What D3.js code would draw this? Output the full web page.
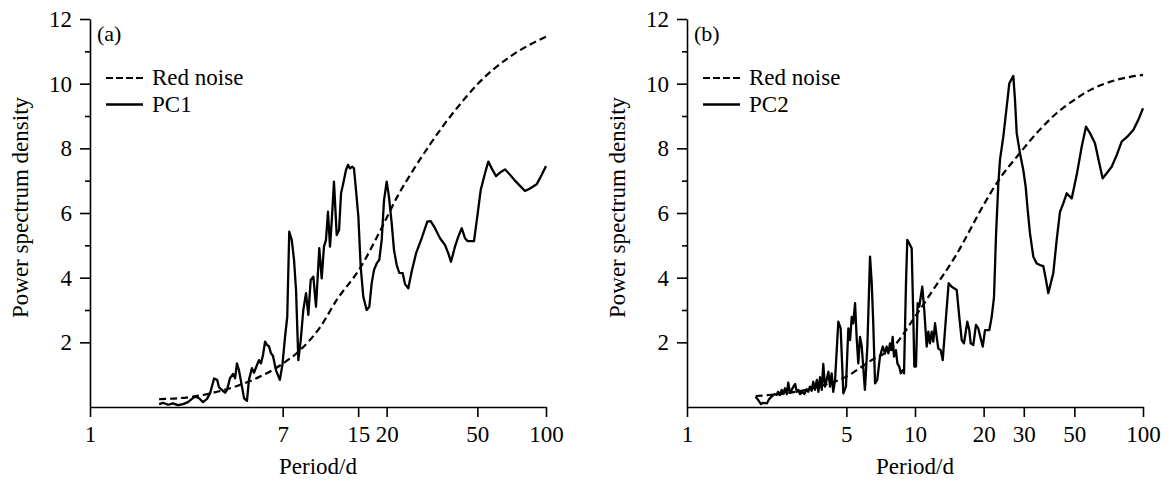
<!DOCTYPE html>
<html><head><meta charset="utf-8">
<script src="https://cdn.jsdelivr.net/npm/d3@7"></script>
<style>body{margin:0;background:#fff}svg{display:block}text{font-family:"Liberation Serif","Times New Roman",serif;fill:#000}</style>
</head><body><svg id="c" width="1167" height="480"></svg>
<script>
// ---- data ----
const panelLabels = ["(a)", "(b)"];
const seriesNames = [["Red noise", "PC1"], ["Red noise", "PC2"]];
const xTicksA = [1, 7, 15, 20, 50, 100];
const xTicksB = [1, 5, 10, 20, 30, 50, 100];
const yMajorTicks = [2, 4, 6, 8, 10, 12];
const yMinorTicks = [3, 5, 7, 9, 11];

const redNoiseA = [[2.01,0.24],[2.83,0.32],[3.61,0.47],[4.41,0.65],[5.57,0.94],[7.04,1.35],[8.2,1.71],[10.24,2.48],[12.08,3.31],[15.28,4.29],[18.8,5.47],[22.5,6.56],[26,7.3],[31.2,8.15],[35,8.65],[40,9.18],[50,9.98],[70,10.85],[100,11.45]];
const pc1 = [[2.01,0.09],[2.09,0.13],[2.2,0.07],[2.31,0.11],[2.43,0.06],[2.56,0.09],[2.69,0.15],[2.8,0.25],[2.89,0.32],[3.01,0.27],[3.13,0.15],[3.26,0.25],[3.36,0.42],[3.43,0.65],[3.5,0.88],[3.61,0.84],[3.68,0.61],[3.79,0.53],[3.91,0.44],[3.99,0.53],[4.11,0.89],[4.24,1.02],[4.33,0.89],[4.41,1.35],[4.5,1.14],[4.64,0.63],[4.74,0.27],[4.88,0.19],[4.98,0.84],[5.13,1.2],[5.24,1.06],[5.4,1.3],[5.51,1.45],[5.62,1.35],[5.74,1.61],[5.86,2.02],[5.97,1.92],[6.1,1.87],[6.22,1.66],[6.35,1.58],[6.54,1.14],[6.8,0.84],[6.98,1.3],[7.17,2.17],[7.33,2.79],[7.48,5.42],[7.67,5.17],[7.85,4.55],[8.01,3.62],[8.2,1.45],[8.4,2.07],[8.62,3.0],[8.86,3.52],[9.07,2.85],[9.29,3.93],[9.54,4.03],[9.8,3.1],[10.13,4.91],[10.38,3.98],[10.62,4.96],[10.84,5.17],[11.06,6.04],[11.29,4.96],[11.52,5.89],[11.75,6.97],[12.08,5.32],[12.37,5.47],[12.62,6.61],[12.91,6.92],[13.27,7.33],[13.54,7.49],[13.81,7.38],[14.14,7.43],[14.38,7.38],[14.68,6.71],[15.03,5.89],[15.39,4.34],[15.8,3.41],[16.35,3.0],[16.79,3.1],[17.2,3.83],[17.61,4.24],[18.09,4.44],[18.57,4.55],[19.03,5.17],[19.48,6.4],[20.01,6.97],[20.48,6.5],[21.05,5.68],[21.54,4.86],[22.14,4.39],[22.73,4.15],[23.52,4.14],[24.07,3.8],[24.89,3.67],[25.76,4.19],[26.91,4.75],[28.5,5.22],[30.16,5.73],[31.21,5.75],[32.6,5.53],[34.29,5.22],[36.06,5.01],[37.29,4.75],[38.31,4.49],[39.89,4.96],[41.24,5.27],[42.69,5.53],[44.13,5.22],[45.35,5.13],[48.33,5.13],[49.96,5.89],[51.71,6.71],[54.01,7.23],[55.84,7.59],[57.78,7.38],[60.35,7.14],[62.84,7.25],[66.09,7.35],[69.52,7.18],[73.12,7.0],[76.91,6.84],[80.89,6.68],[85.08,6.76],[91.04,6.89],[95.75,7.18],[100,7.45]];

const redNoiseB = [[2.0,0.34],[3.0,0.47],[4.0,0.68],[5.0,0.94],[6.35,1.42],[8,1.85],[10,2.79],[12,3.62],[15,4.65],[20,6.25],[22.8,6.92],[28.8,7.85],[35,8.55],[42,9.1],[50,9.5],[58.5,9.8],[75,10.1],[100,10.27]];
const pc2 = [[2.0,0.32],[2.05,0.22],[2.11,0.09],[2.16,0.13],[2.24,0.11],[2.29,0.24],[2.35,0.32],[2.42,0.4],[2.47,0.37],[2.51,0.47],[2.56,0.37],[2.6,0.53],[2.65,0.42],[2.69,0.58],[2.74,0.4],[2.78,0.75],[2.83,0.44],[2.88,0.53],[2.93,0.63],[2.98,0.71],[3.03,0.47],[3.08,0.53],[3.13,0.4],[3.21,0.47],[3.27,0.4],[3.35,0.55],[3.4,0.47],[3.46,0.63],[3.52,0.5],[3.58,0.78],[3.64,0.53],[3.71,0.84],[3.77,0.47],[3.83,0.92],[3.9,0.53],[3.96,1.33],[4.03,0.63],[4.1,0.84],[4.17,1.09],[4.24,0.63],[4.31,1.04],[4.38,0.47],[4.46,0.84],[4.61,2.64],[4.72,2.43],[4.85,0.42],[4.98,0.63],[5.1,2.43],[5.19,2.07],[5.28,2.79],[5.36,2.59],[5.46,3.21],[5.55,2.12],[5.64,1.35],[5.74,2.17],[5.84,1.87],[6.03,0.53],[6.18,1.87],[6.35,4.65],[6.46,3.83],[6.56,2.59],[6.68,0.73],[6.83,0.84],[7.02,1.56],[7.22,1.87],[7.39,1.66],[7.51,1.87],[7.64,1.66],[7.77,1.97],[7.9,1.76],[7.98,2.17],[8.09,1.56],[8.25,1.76],[8.37,1.35],[8.53,1.25],[8.66,1.04],[8.83,1.14],[8.95,1.04],[9.13,3.83],[9.25,5.17],[9.44,5.06],[9.67,4.91],[9.83,2.79],[9.93,1.25],[10.1,1.25],[10.27,3.21],[10.44,3.1],[10.76,3.72],[10.98,3.0],[11.25,1.87],[11.44,2.33],[11.63,1.97],[11.84,2.33],[12.03,2.02],[12.24,2.59],[12.45,2.17],[12.65,1.81],[12.96,1.76],[13.23,1.45],[13.68,2.79],[14.05,3.83],[14.49,3.72],[15.24,3.62],[15.64,2.79],[16.03,2.07],[16.4,1.97],[16.96,2.64],[17.3,2.38],[17.55,1.97],[18.02,1.92],[18.51,2.54],[18.95,2.43],[19.42,2.12],[19.82,1.87],[20.28,2.38],[21.18,2.38],[21.7,2.79],[22.21,3.4],[22.66,5.3],[23.2,6.9],[23.6,7.66],[24.4,8.36],[25.25,9.29],[25.92,10.01],[26.64,10.17],[26.99,10.24],[27.45,9.5],[27.93,8.47],[28.87,7.85],[29.85,7.33],[30.58,6.81],[31.21,6.09],[31.94,5.37],[33.03,4.65],[34.19,4.44],[35.35,4.39],[36.53,4.36],[37.54,3.93],[38.42,3.52],[40.42,4.14],[41.83,5.17],[43.25,6.04],[44.72,6.3],[46.28,6.61],[48.68,6.45],[51.2,7.18],[53.84,8.05],[56.23,8.67],[58.55,8.47],[61.58,8.16],[64.31,7.54],[66.55,7.07],[69.3,7.23],[72.89,7.43],[76.66,7.79],[80.63,8.21],[85.33,8.36],[90.68,8.57],[95.37,8.88],[100,9.24]];

// ---- drawing ----
const panels = [
  {x0: 90, label: panelLabels[0], names: seriesNames[0], ticks: xTicksA, red: redNoiseA, pc: pc1},
  {x0: 687, label: panelLabels[1], names: seriesNames[1], ticks: xTicksB, red: redNoiseB, pc: pc2}
];
const svg = d3.select("#c");
const FS = "23px";
const yTop = 19, yBot = 407, W = 456;

panels.forEach(p => {
  const x = d3.scaleLog().domain([1, 100]).range([p.x0, p.x0 + W]);
  const y = d3.scaleLinear().domain([0, 12]).range([yBot, yTop]);
  const g = svg.append("g");

  g.append("g").attr("transform", `translate(${p.x0},0)`)
    .call(d3.axisLeft(y).tickValues(yMajorTicks).tickSize(10).tickSizeOuter(0).tickPadding(8).tickFormat(d3.format("d")));
  g.append("g").attr("transform", `translate(${p.x0},0)`)
    .call(d3.axisLeft(y).tickValues(yMinorTicks).tickSize(5).tickFormat(""))
    .select(".domain").remove();
  g.append("g").attr("transform", `translate(0,${yBot})`)
    .call(d3.axisBottom(x).tickValues(p.ticks).tickSize(10).tickSizeOuter(0).tickPadding(9).tickFormat(d3.format("d")));
  g.selectAll(".domain, .tick line").attr("stroke", "#000").attr("stroke-width", 1.6);
  g.selectAll(".tick text").style("font-size", FS).style("font-family", '"Liberation Serif",serif').attr("fill", "#000");

  g.append("text").attr("transform", `translate(${p.x0 - 62},207.5) rotate(-90)`)
    .attr("text-anchor", "middle").style("font-size", FS).text("Power spectrum density");
  g.append("text").attr("x", x(10)).attr("y", 474).attr("text-anchor", "middle").style("font-size", FS).text("Period/d");
  g.append("text").attr("x", p.x0 + 7).attr("y", 41).style("font-size", "22px").text(p.label);

  g.append("line").attr("x1", p.x0 + 16).attr("x2", p.x0 + 53).attr("y1", 78).attr("y2", 78)
    .attr("stroke", "#000").attr("stroke-width", 2.2).attr("stroke-dasharray", "7,3");
  g.append("text").attr("x", p.x0 + 62).attr("y", 85).style("font-size", FS).text(p.names[0]);
  g.append("line").attr("x1", p.x0 + 16).attr("x2", p.x0 + 53).attr("y1", 104.5).attr("y2", 104.5)
    .attr("stroke", "#000").attr("stroke-width", 2.4);
  g.append("text").attr("x", p.x0 + 62).attr("y", 112).style("font-size", FS).text(p.names[1]);

  g.append("path").datum(p.red).attr("fill", "none").attr("stroke", "#000").attr("stroke-width", 2.2)
    .attr("stroke-dasharray", "7,4")
    .attr("d", d3.line().x(d => x(d[0])).y(d => y(d[1])).curve(d3.curveMonotoneX));
  g.append("path").datum(p.pc).attr("fill", "none").attr("stroke", "#000").attr("stroke-width", 2.3)
    .attr("stroke-linejoin", "round").attr("d", d3.line().x(d => x(d[0])).y(d => y(d[1])));
});
</script></body></html>
